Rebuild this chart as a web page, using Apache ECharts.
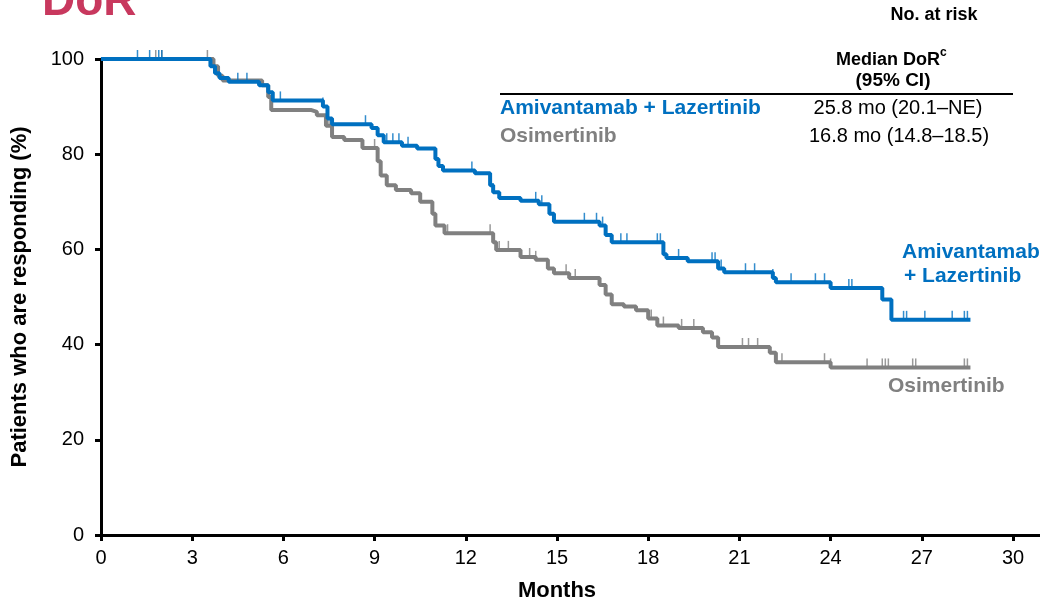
<!DOCTYPE html>
<html>
<head>
<meta charset="utf-8">
<script src="https://cdn.jsdelivr.net/npm/echarts@6/dist/echarts.min.js"></script>
<style>
html,body{margin:0;padding:0;background:#fff;}
#chart{width:1040px;height:603px;}
</style>
</head>
<body>
<div id="chart"></div>
<script>
// ---- Data ----
var xTicks = [0, 3, 6, 9, 12, 15, 18, 21, 24, 27, 30];
var yTicks = [0, 20, 40, 60, 80, 100];

var amiTimes = [0, 3.6, 3.75, 3.9, 4.2, 5.2, 5.5, 5.65, 7.3, 7.45, 7.6, 8.9, 9.1, 9.3, 9.9, 10.4, 11.0, 11.1, 11.25, 12.3, 12.8, 12.9, 13.1, 13.8, 14.4, 14.75, 14.9, 16.4, 16.6, 16.8, 18.5, 18.6, 19.3, 20.3, 20.5, 22.1, 22.2, 24.0, 25.7, 26.0, 28.6];
var amiVals  = [100, 98.5, 97, 96, 95.2, 94.5, 93, 91.3, 90, 87.5, 86.3, 85.5, 84, 82.5, 81.8, 81.2, 79, 77.5, 76.6, 76, 73.5, 72, 70.8, 70.2, 69.5, 67.5, 65.8, 65, 63, 61.5, 59, 58.2, 57.5, 56, 55.2, 54, 53.1, 51.9, 49.5, 45.2, 45.2];
var amiCensor = [1.2, 1.6, 1.9, 2.0, 4.5, 4.8, 5.9, 7.3, 8.7, 9.4, 9.6, 9.8, 10.1, 11.0, 12.2, 12.9, 14.3, 14.5, 15.9, 16.3, 16.5, 17.1, 17.3, 18.3, 18.4, 18.5, 19.0, 20.1, 20.2, 20.4, 21.2, 21.5, 22.1, 22.7, 23.5, 23.8, 24.6, 24.7, 26.4, 26.5, 27.1, 28.0, 28.4, 28.5];

var osiTimes = [0, 3.7, 3.85, 4.0, 5.3, 5.5, 5.6, 6.9, 7.1, 7.4, 7.6, 8.0, 8.6, 9.1, 9.2, 9.4, 9.7, 10.2, 10.5, 10.9, 11.0, 11.3, 12.9, 13.0, 13.8, 14.3, 14.7, 14.9, 15.4, 16.4, 16.6, 16.8, 17.2, 17.6, 18.0, 18.3, 19.0, 19.8, 20.1, 20.3, 22.0, 22.2, 24.0, 28.6];
var osiVals  = [100, 98.5, 96.5, 95.5, 94.5, 92, 89.3, 88.9, 88.2, 86, 83.6, 83, 81.3, 78.5, 75.5, 73.5, 72.5, 71.8, 70, 67.5, 65, 63.4, 61.5, 59.9, 58.4, 57.8, 56, 55, 54, 52.5, 50.5, 48.5, 48, 47.2, 45.5, 44, 43.5, 42.6, 41.5, 39.5, 38.3, 36.3, 35.2, 35.2];
var osiCensor = [1.8, 2.0, 3.5, 7.5, 9.0, 11.4, 12.8, 13.1, 13.4, 14.1, 14.3, 15.3, 15.6, 18.1, 18.5, 19.1, 19.5, 21.1, 21.3, 21.6, 22.2, 22.4, 23.8, 24.0, 25.2, 25.7, 25.8, 25.9, 26.7, 26.8, 28.4, 28.5];

var seriesNames = ['Amivantamab + Lazertinib', 'Osimertinib'];
var medianText = ['25.8 mo (20.1\u2013NE)', '16.8 mo (14.8\u201318.5)'];

var BLUE = '#0070C0', GRAY = '#808080';
var FONT = '"Liberation Sans", Arial, sans-serif';

function pairs(t, v) { return t.map(function (x, i) { return [x, v[i]]; }); }
function stepAt(t, v, x) {
  var y = v[0];
  for (var i = 0; i < t.length; i++) { if (t[i] <= x) y = v[i]; }
  return y;
}
function censorPts(c, t, v) { return c.map(function (x) { return [x, stepAt(t, v, x)]; }); }

var chart = echarts.init(document.getElementById('chart'), null, {renderer: 'canvas'});
var option = {
  animation: false,
  backgroundColor: '#fff',
  grid: {left: 101, right: 27, top: 59, bottom: 68, containLabel: false, outerBoundsMode: 'none'},
  xAxis: {
    type: 'value', min: 0, max: 30, interval: 3,
    name: 'Months', nameLocation: 'middle', nameGap: 45,
    nameTextStyle: {fontFamily: FONT, fontSize: 22, fontWeight: 'bold', color: '#000'},
    axisLine: {show: true, onZero: false, lineStyle: {color: '#000', width: 3}},
    axisTick: {show: true, length: 6, lineStyle: {color: '#000', width: 3}},
    axisLabel: {fontFamily: FONT, fontSize: 20, color: '#000', margin: 13},
    splitLine: {show: false}
  },
  yAxis: {
    type: 'value', min: 0, max: 100, interval: 20,
    name: 'Patients who are responding (%)', nameLocation: 'middle', nameGap: 70, nameRotate: 90,
    nameTextStyle: {fontFamily: FONT, fontSize: 22, fontWeight: 'bold', color: '#000'},
    axisLine: {show: true, lineStyle: {color: '#000', width: 3}},
    axisTick: {show: true, length: 6, lineStyle: {color: '#000', width: 3}},
    axisLabel: {fontFamily: FONT, fontSize: 20, color: '#000', margin: 17},
    splitLine: {show: false}
  },
  series: [
    {name: seriesNames[1], type: 'line', step: 'end', data: pairs(osiTimes, osiVals), showSymbol: false,
     lineStyle: {color: GRAY, width: 4}, z: 2},
    {name: seriesNames[1] + ' censored', type: 'scatter', data: censorPts(osiCensor, osiTimes, osiVals),
     symbol: 'rect', symbolSize: [1.5, 9], symbolOffset: [0, -4.5], itemStyle: {color: GRAY}, z: 2},
    {name: seriesNames[0], type: 'line', step: 'end', data: pairs(amiTimes, amiVals), showSymbol: false,
     lineStyle: {color: BLUE, width: 4}, z: 3},
    {name: seriesNames[0] + ' censored', type: 'scatter', data: censorPts(amiCensor, amiTimes, amiVals),
     symbol: 'rect', symbolSize: [1.5, 9], symbolOffset: [0, -4.5], itemStyle: {color: BLUE}, z: 3}
  ],
  graphic: [
    {type: 'rect', shape: {x: 1011, y: 534, width: 29, height: 3}, style: {fill: '#000'}, z: 10},
    {type: 'text', left: 42, top: -21, style: {text: 'DoR', font: 'bold 46px ' + FONT, fill: '#C8385E'}},
    {type: 'text', x: 934, y: 15, style: {text: 'No. at risk', font: 'bold 18px ' + FONT, fill: '#000', align: 'center', verticalAlign: 'middle'}},
    {type: 'text', x: 888, y: 60, style: {text: 'Median DoR', font: 'bold 18px ' + FONT, fill: '#000', align: 'center', verticalAlign: 'middle'}},
    {type: 'text', x: 940, y: 53, style: {text: 'c', font: 'bold 12px ' + FONT, fill: '#000', align: 'left', verticalAlign: 'middle'}},
    {type: 'text', x: 893, y: 81, style: {text: '(95% CI)', font: 'bold 19px ' + FONT, fill: '#000', align: 'center', verticalAlign: 'middle'}},
    {type: 'line', shape: {x1: 500, y1: 94, x2: 1013, y2: 94}, style: {stroke: '#000', lineWidth: 2}},
    {type: 'text', x: 500, y: 108, style: {text: seriesNames[0], font: 'bold 21px ' + FONT, fill: BLUE, verticalAlign: 'middle'}},
    {type: 'text', x: 500, y: 136, style: {text: seriesNames[1], font: 'bold 21px ' + FONT, fill: GRAY, verticalAlign: 'middle'}},
    {type: 'text', x: 898, y: 108, style: {text: medianText[0], font: '20px ' + FONT, fill: '#000', align: 'center', verticalAlign: 'middle'}},
    {type: 'text', x: 899, y: 136, style: {text: medianText[1], font: '20px ' + FONT, fill: '#000', align: 'center', verticalAlign: 'middle'}},
    {type: 'text', x: 902, y: 252, style: {text: 'Amivantamab', font: 'bold 21px ' + FONT, fill: BLUE, verticalAlign: 'middle'}},
    {type: 'text', x: 904, y: 276, style: {text: '+ Lazertinib', font: 'bold 21px ' + FONT, fill: BLUE, verticalAlign: 'middle'}},
    {type: 'text', x: 888, y: 386, style: {text: 'Osimertinib', font: 'bold 21px ' + FONT, fill: GRAY, verticalAlign: 'middle'}}
  ]
};
chart.setOption(option);
</script>
</body>
</html>
